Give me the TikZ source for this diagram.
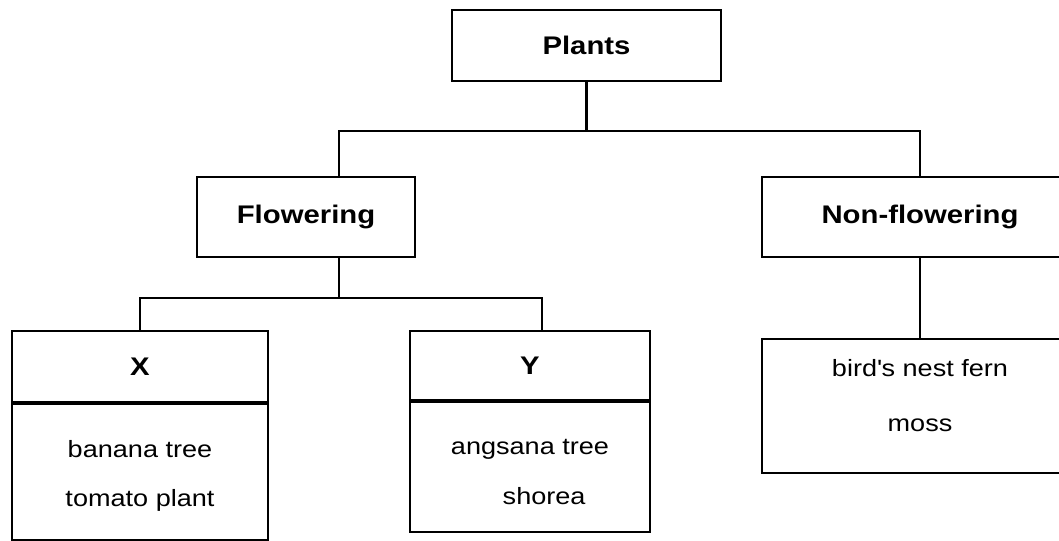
\documentclass[tikz,border=0pt]{standalone}
\usepackage{fontspec}
\setmainfont{Liberation Sans}[FakeStretch=1.15]
\usetikzlibrary{positioning}

\tikzset{
	box/.style = {draw, line width=1.3pt, inner sep=2pt, align=center},
	headfont/.style = {font=\fontsize{14.5}{17}\selectfont\bfseries},
	listfont/.style = {font=\fontsize{13.4}{28}\selectfont}
}

\begin{document}
\begin{tikzpicture} [x=0.02cm, y=-0.02cm, line width=1.3pt]
	\clip (0,0) rectangle (1059,541);
	% top level
	\node [box, headfont, minimum width=5.38cm, minimum height=1.42cm] (plants) at (586.5,45.5) {Plants};
	\node [box, headfont, minimum width=4.36cm, minimum height=1.6cm] (flowering) at (306,217) {Flowering};
	\node [box, headfont, minimum width=6.32cm, minimum height=1.6cm] (nonflower) at (920,217) {Non-flowering};
	% groups X and Y
	\node [box, headfont, minimum width=5.12cm, minimum height=1.42cm] (xhead) at (140,366.5) {X};
	\node [box, listfont, minimum width=5.12cm, minimum height=2.72cm, below=0pt of xhead] (xbody) {\rule{0pt}{14pt}banana tree\\tomato plant};
	\node [box, headfont, minimum width=4.8cm, minimum height=1.38cm] (yhead) at (530,365.5) {Y};
	\node [box, listfont, minimum width=4.8cm, minimum height=2.6cm, below=0pt of yhead] (ybody) {\rule{0pt}{14pt}angsana tree\\\hspace*{1.2em}shorea};
	\node [box, listfont, minimum width=6.32cm, minimum height=2.68cm] (birds) at (920,406) {bird\textquotesingle s nest fern\\[3pt]moss\rule[-12pt]{0pt}{1pt}};
	% connectors
	\coordinate (topbar) at (0,131);
	\draw (plants.south) -- (plants.south |- topbar);
	\draw ([xshift=0.66cm]flowering.north) |- (plants.south |- topbar) -| (nonflower.north);
	\draw ([xshift=0.66cm]flowering.south) -- ++(0,40) coordinate (midbar);
	\draw (xhead.north) |- (midbar) -| ([xshift=0.24cm]yhead.north);
	\draw (nonflower.south) -- (birds.north);
	%\draw (ybody.south) -- ++(0,10);
\end{tikzpicture}
\end{document}
